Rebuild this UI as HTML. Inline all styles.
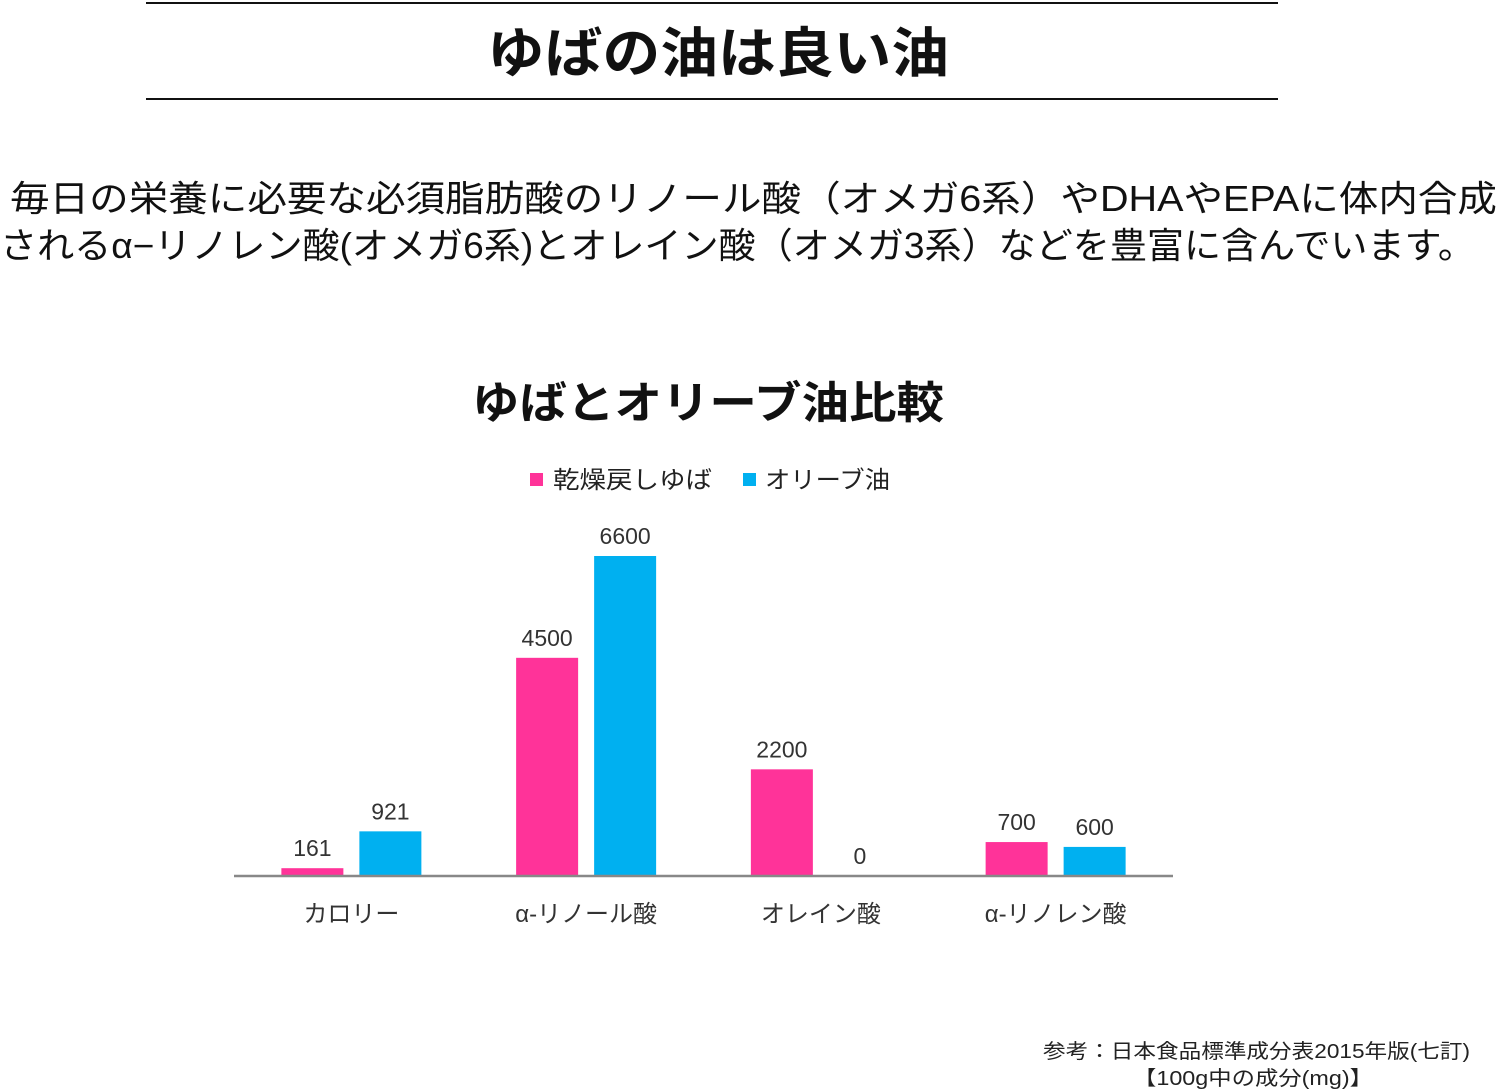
<!DOCTYPE html>
<html><head><meta charset="utf-8">
<style>
html,body{margin:0;padding:0;background:#fff;}
svg{display:block;font-family:"Liberation Sans","Noto Sans CJK JP",sans-serif;}
</style></head>
<body>
<svg id="page" width="1500" height="1092" viewBox="0 0 1500 1092">
  <line x1="146" y1="3" x2="1278" y2="3" stroke="#111" stroke-width="2"/>
  <text x="718" y="72" text-anchor="middle" font-size="54" font-weight="bold" fill="#111" textLength="462" lengthAdjust="spacingAndGlyphs">ゆばの油は良い油</text>
  <line x1="146" y1="99" x2="1278" y2="99" stroke="#111" stroke-width="2"/>
  <text x="10" y="211" font-size="36" fill="#111" textLength="1487" lengthAdjust="spacingAndGlyphs">毎日の栄養に必要な必須脂肪酸のリノール酸（オメガ6系）やDHAやEPAに体内合成</text>
  <text x="0" y="258" font-size="36" fill="#111" textLength="1475" lengthAdjust="spacingAndGlyphs">されるα−リノレン酸(オメガ6系)とオレイン酸（オメガ3系）などを豊富に含んでいます。</text>
  <text x="708" y="418" text-anchor="middle" font-size="44" font-weight="bold" fill="#111" textLength="472" lengthAdjust="spacingAndGlyphs">ゆばとオリーブ油比較</text>
  <rect x="530" y="473" width="13" height="13" fill="#FF3399"/>
  <text x="553" y="488" font-size="24" fill="#222" textLength="159" lengthAdjust="spacingAndGlyphs">乾燥戻しゆば</text>
  <rect x="743" y="473" width="13" height="13" fill="#00B0F0"/>
  <text x="765" y="488" font-size="24" fill="#222" textLength="125" lengthAdjust="spacingAndGlyphs">オリーブ油</text>
  <g id="chart"></g>
  <text x="1470" y="1058" text-anchor="end" font-size="20" fill="#222" textLength="427" lengthAdjust="spacingAndGlyphs">参考：日本食品標準成分表2015年版(七訂)</text>
  <text x="1253" y="1085" text-anchor="middle" font-size="20" fill="#222" textLength="240" lengthAdjust="spacingAndGlyphs">【100g中の成分(mg)】</text>
</svg>
<script>
const categories = ["カロリー", "α-リノール酸", "オレイン酸", "α-リノレン酸"];
const yubaValues = [161, 4500, 2200, 700];
const oliveValues = [921, 6600, 0, 600];
const seriesNames = ["yuba", "olive"];

const NS = "http://www.w3.org/2000/svg";
const g = document.getElementById("chart");
const x0 = 234, x1 = 1173, baseY = 876, pxPerUnit = 320 / 6600;
const groupW = (x1 - x0) / categories.length;
const barW = 62, gap = 16;
const colors = ["#FF3399", "#00B0F0"];
function yScale(v) { return baseY - v * pxPerUnit; }
function groupCenter(i) { return x0 + groupW * (i + 0.5); }

function mk(tag, attrs) {
  const e = document.createElementNS(NS, tag);
  for (const k in attrs) e.setAttribute(k, attrs[k]);
  g.appendChild(e);
  return e;
}
[yubaValues, oliveValues].forEach((vals, s) => {
  vals.forEach((v, i) => {
    const cx = groupCenter(i) + (s === 0 ? -(gap / 2 + barW / 2) : (gap / 2 + barW / 2));
    const r = mk("rect", { x: cx - barW / 2, y: yScale(v), width: barW, height: baseY - yScale(v), fill: colors[s] });
    
    
    const t = mk("text", { x: cx, y: yScale(v) - 12, "text-anchor": "middle", "font-size": "23", fill: "#333" });
    t.textContent = String(v);
    
    
  });
});
const axis = mk("line", { x1: x0, y1: baseY, x2: x1, y2: baseY, stroke: "#888", "stroke-width": "2.5" });


categories.forEach((c, i) => {
  const t = mk("text", { x: groupCenter(i), y: 922, "text-anchor": "middle", "font-size": "24", fill: "#333" });
  t.textContent = c;
  
  
});
</script>
</body></html>
